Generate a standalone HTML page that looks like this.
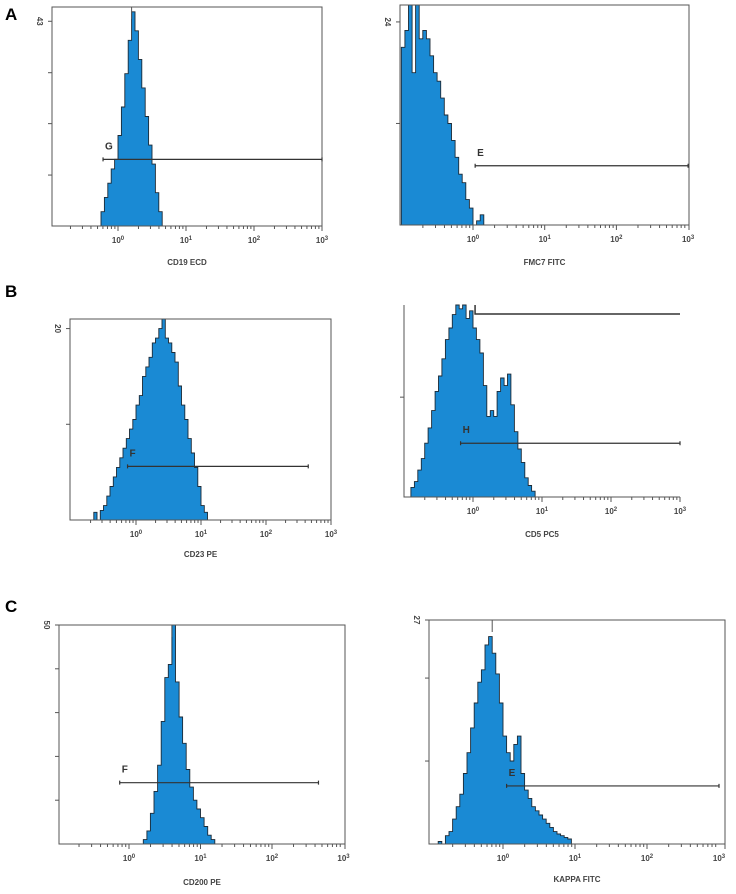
<!DOCTYPE html>
<html><head><meta charset="utf-8">
<style>
html,body{margin:0;padding:0;background:#fff;}
svg{display:block;font-family:"Liberation Sans",sans-serif;}
</style></head>
<body>
<svg id="fig" width="736" height="894" viewBox="0 0 736 894" xmlns="http://www.w3.org/2000/svg">
<text x="5" y="20" font-size="17" font-weight="bold">A</text>
<text x="5" y="297" font-size="17" font-weight="bold">B</text>
<text x="5" y="612" font-size="17" font-weight="bold">C</text>
</svg>
<script>
// ---- data: histogram counts, 0.05-decade bins starting at given log10 value ----
var cd19Start = -0.25;
var cd19Counts = [3,6,9,12,14,19,25,32,39,45,41,35,29,23,17,13,7,3];
var fmc7Start = -1.0;
var fmc7Counts = [21,23,26,18,26,22,23,22,20,18,17,15,13,12,10,8,6,5,3,2,0,0.5,1.2,0];
var cd23Start = -0.65;
var cd23Counts = [0.8,0,1,1.5,2.5,3.5,4.5,5.5,6.5,7.5,8.5,9.5,10.5,12,13,15,16,17,18.5,19,20,21,19,18.5,17.5,16.5,14,12,10.5,8.5,7,5.5,3.5,1.5,0.8];
var cd5Start = -0.9;
var cd5Counts = [5,8,14,20,28,36,45,55,63,72,82,88,95,100,98,100,93,97,88,82,75,58,42,45,42,55,62,58,64,48,34,25,18,10,6,3];
var cd200Start = 0.2;
var cd200Counts = [1,3,7,12,18,28,38,41,50,37,29,23,17,13,10,8,6,4,2,1];
var kappaStart = -0.9;
var kappaCounts = [0.3,0,1,1.5,3,4.5,6,8.5,11,14,17,19.5,21,24,25,23,20.5,17,13,11,10,12,13,8.5,6.5,5.5,4.5,4,3.5,3,2.5,2,1.5,1.2,1,0.8,0.6];
var decadeLabels = ["0","1","2","3"];
var axisNames = ["CD19 ECD","FMC7 FITC","CD23 PE","CD5 PC5","CD200 PE","KAPPA FITC"];
var yMaxLabels = ["43","24","20","","50","27"];
var gateNames = ["G","E","F","H","F","E"];
var gateLevels = [14,7,5.6,28,14,7];      // gate bar height in counts
var gateFrom = [-0.22,0.03,-0.13,-0.18,-0.13,0.05]; // log10 start of gate

// ---- layout (pixel geometry) ----
var panels = [
 {name:"cd19",L:52,R:322,T:7,B:226,x0:118,dec:68,yTop:46,yMax:43,yTicks:[43,32.2,21.5,10.7],start:cd19Start,counts:cd19Counts,gateEnd:3,labY:265,box:true,cursor:0.2},
 {name:"fmc7",L:400,R:689,T:5,B:225,x0:473,dec:71.7,yTop:26,yMax:24,yTicks:[24,12],start:fmc7Start,counts:fmc7Counts,gateEnd:3,labY:265,box:true},
 {name:"cd23",L:70,R:331,T:319,B:520,x0:136,dec:65,yTop:21,yMax:20,yTicks:[20,10],start:cd23Start,counts:cd23Counts,gateEnd:2.65,labY:557,box:true},
 {name:"cd5",L:404,R:680,T:305,B:497,x0:473,dec:69,yTop:100,yMax:100,yTicks:[52],start:cd5Start,counts:cd5Counts,gateEnd:3,labY:537,box:false},
 {name:"cd200",L:59,R:345,T:625,B:844,x0:129,dec:71.5,yTop:50,yMax:50,yTicks:[50,40,30,20,10],start:cd200Start,counts:cd200Counts,gateEnd:2.65,labY:885,box:true,cursor:0.6},
 {name:"kappa",L:429,R:725,T:620,B:844,x0:503,dec:72,yTop:27,yMax:27,yTicks:[27,20,10],start:kappaStart,counts:kappaCounts,gateEnd:3,labY:882,box:true,cursor:-0.15}
];
var NS="http://www.w3.org/2000/svg";
var svg=document.getElementById('fig');
function mk(tag,attrs,parent){var e=document.createElementNS(NS,tag);for(var k in attrs)e.setAttribute(k,attrs[k]);(parent||svg).appendChild(e);return e;}
panels.forEach(function(p,i){
  var g=mk('g',{});
  
  
  var xs=function(l){return p.x0+l*p.dec;};
  var ys=function(v){return p.B-(v/p.yTop)*(p.B-p.T);};
  var d="M"+xs(p.start).toFixed(1)+","+p.B;
  p.counts.forEach(function(c,j){
    var a=xs(p.start+j*0.05),b=xs(p.start+(j+1)*0.05);
    d+=" L"+a.toFixed(1)+","+ys(c).toFixed(1)+" L"+b.toFixed(1)+","+ys(c).toFixed(1);
  });
  d+=" L"+xs(p.start+p.counts.length*0.05).toFixed(1)+","+p.B+" Z";
  var h=mk('path',{d:d,fill:'#1a8ad4',stroke:'#1c2a36','stroke-width':'0.9','stroke-linejoin':'miter'},g);
  
  
  if(p.box){
    var r=mk('rect',{x:p.L,y:p.T,width:p.R-p.L,height:p.B-p.T,fill:'none',stroke:'#555','stroke-width':'1'},g);
    
    
  } else {
    var ln=mk('path',{d:"M"+p.L+","+p.T+" L"+p.L+","+p.B+" L"+p.R+","+p.B,fill:'none',stroke:'#555','stroke-width':'1'},g);
    
    
    var tg=mk('path',{d:"M"+xs(0.03)+","+p.T+" L"+xs(0.03)+","+(p.T+9)+" L"+p.R+","+(p.T+9),fill:'none',stroke:'#333','stroke-width':'1.5'},g);
    
    
  }
  if(p.cursor!==undefined){
    var cx=xs(p.cursor);
    mk('line',{x1:cx,y1:p.T,x2:cx,y2:p.T+12,stroke:'#555','stroke-width':'1'},g);
  }
  for(var dd=-1;dd<3;dd++){
    for(var m=1;m<10;m++){
      var tx=xs(dd+Math.log10(m));
      if(tx<p.L+3) continue;
      mk('line',{x1:tx,y1:p.B,x2:tx,y2:p.B+(m==1?5:3),stroke:'#555','stroke-width':'1'},g);
    }
  }
  mk('line',{x1:p.R,y1:p.B,x2:p.R,y2:p.B+5,stroke:'#555','stroke-width':'1'},g);
  decadeLabels.forEach(function(lab,k){
    var t=mk('text',{x:xs(k),y:p.B+17,'font-size':'8','font-weight':'bold',fill:'#444','text-anchor':'middle'},g);
    
    
    t.textContent='10';
    var s=mk('tspan',{dy:'-3','font-size':'6'},t);s.textContent=lab;
  });
  p.yTicks.forEach(function(v){
    var ty=ys(v);
    mk('line',{x1:p.L-4,y1:ty,x2:p.L,y2:ty,stroke:'#555','stroke-width':'1'},g);
  });
  if(yMaxLabels[i]){
    var yl=mk('text',{x:0,y:0,'font-size':'8','font-weight':'bold',fill:'#444','text-anchor':'middle',transform:'translate('+(p.L-15)+','+ys(p.yMax)+') rotate(90)'},g);
    
    
    yl.textContent=yMaxLabels[i];
  }
  var gy=ys(gateLevels[i]), gx=xs(gateFrom[i]), ge=xs(p.gateEnd);
  var gl=mk('path',{d:"M"+gx+","+gy+" L"+ge+","+gy+" M"+gx+","+(gy-2)+" L"+gx+","+(gy+2)+" M"+ge+","+(gy-2)+" L"+ge+","+(gy+2),stroke:'#333','stroke-width':'1.2',fill:'none'},g);
  
  
  var gt=mk('text',{x:gx+2,y:gy-10,'font-size':'10','font-weight':'bold',fill:'#333'},g);
  
  
  gt.textContent=gateNames[i];
  var at=mk('text',{x:(p.L+p.R)/2,y:p.labY,'font-size':'8','font-weight':'bold',fill:'#444','text-anchor':'middle'},g);
  
  
  at.textContent=axisNames[i];
});
</script>
</body></html>
